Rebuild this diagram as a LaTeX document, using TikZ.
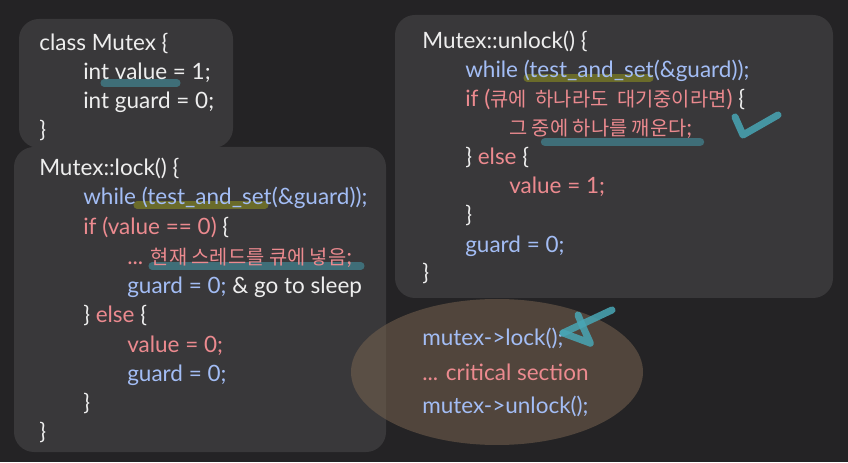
\documentclass[tikz,border=0pt]{standalone}
\usepackage{fontspec}
\setmainfont{Lato}
\newfontfamily\kr[Scale=0.88]{Noto Sans CJK KR}

\definecolor{bggray}{HTML}{242325}
\definecolor{panelgray}{HTML}{39383A}
\definecolor{txtwhite}{HTML}{EEEEEE}
\definecolor{txtblue}{HTML}{A3BDF5}
\definecolor{txtpink}{HTML}{EC8A8F}
\definecolor{hlolive}{HTML}{6A6B2A}
\definecolor{hlteal}{HTML}{3F6E78}
\definecolor{penteal}{HTML}{48A6B5}
\definecolor{blobbrown}{HTML}{76624F}

\newcommand{\cb}[1]{{\color{txtblue}#1}}
\newcommand{\cp}[1]{{\color{txtpink}#1}}

\tikzset{
  panel/.style={fill=panelgray, rounded corners=0.5cm},
  code/.style={anchor=west, inner sep=0pt, text=txtwhite, yshift=-0.12cm,
    font=\fontsize{16}{19}\selectfont, text height=0.75em, text depth=0.22em},
  hilite/.style={line width=5pt, line cap=round},
  pen/.style={penteal, line width=5pt, line cap=round, line join=round, opacity=0.85}
}

\begin{document}
\begin{tikzpicture}
  \fill[bggray] (0,0) rectangle (21.2,11.55);
  \useasboundingbox (0,0) rectangle (21.2,11.55);

  % class
  \fill[panel] (0.475,7.85) rectangle (5.825,11.075);
  \draw[hilite, hlteal] (2.6,9.475) -- (4.425,9.475);
	\node[code] (cls1) at (0.975,10.5) {class Mutex \{};
	\node[code] (cls2) at (2.075,9.775) {int value = 1;};
	\node[code] (cls3) at (2.075,9.05) {int guard = 0;};
	\node[code] (cls4) at (0.975,8.325) {\}};

  % lock
  \fill[panel] (0.35,0.25) rectangle (9.65,7.875);
  \draw[hilite, hlolive] (3.425,6.425) -- (6.625,6.425);
  \draw[hilite, hlteal] (3.8,4.9) -- (9.025,4.9);
	\node[code] (lk1) at (0.975,7.375) {Mutex::lock() \{};
	\node[code] (lk2) at (2.075,6.65) {\cb{while (test\_and\_set(\&guard));}};
	\node[code] (lk3) at (2.075,5.9) {\cp{if (value == 0)} \{};
	\node[code] (lk4) at (3.175,5.15) {\cp{... {\kr 현재 스레드를 큐에 넣음};}};
	\node[code] (lk5) at (3.175,4.425) {\cb{guard = 0;} \& go to sleep};
	\node[code] (lk6) at (2.075,3.7) {\} \cp{else} \{};
	\node[code] (lk7) at (3.175,2.95) {\cp{value = 0;}};
	\node[code] (lk8) at (3.175,2.225) {\cb{guard = 0;}};
	\node[code] (lk9) at (2.075,1.5) {\}};
	\node[code] (lk10) at (0.975,0.775) {\}};

  % unlock
  \fill[panel] (9.875,4.1) rectangle (20.825,11.175);
  \draw[hilite, hlolive] (13.175,9.6) -- (16.25,9.6);
  \draw[hilite, hlteal, line width=6pt] (13.625,8.0) -- (17.5,8.0);
	\node[code] (ul1) at (10.55,10.55) {Mutex::unlock() \{};
	\node[code] (ul2) at (11.625,9.825) {\cb{while (test\_and\_set(\&guard));}};
	\node[code] (ul3) at (11.625,9.1) {\cp{if ({\kr 큐에\ \ 하나라도\ \ 대기중이라면})} \{};
	\node[code] (ul4) at (12.725,8.375) {\cp{{\kr 그 중에 하나를 깨운다};}};
	\node[code] (ul5) at (11.625,7.65) {\} \cp{else} \{};
	\node[code] (ul6) at (12.725,6.925) {\cp{value = 1;}};
	\node[code] (ul7) at (11.625,6.2) {\}};
	\node[code] (ul8) at (11.625,5.45) {\cb{guard = 0;}};
	\node[code] (ul9) at (10.55,4.75) {\}};
  \draw[pen] (18.375,8.625) -- (18.575,8.175) -- (19.45,8.675);

  % usage
  \fill[blobbrown, opacity=0.55] (12.425,2.25) ellipse (3.65 and 1.825);
	\node[code] (use1) at (10.55,3.125) {\cb{mutex->lock();}};
	\node[code] (use2) at (10.55,2.25) {\cp{... critical section}};
	\node[code] (use3) at (10.55,1.425) {\cb{mutex->unlock();}};
  \draw[pen] (15.3,3.8) -- (14.075,3.225);
  \draw[pen] (14.45,3.675) .. controls (14.6,3.3) and (14.8,2.9) .. (14.75,2.975)
    -- (14.075,3.225);
\end{tikzpicture}
\end{document}
